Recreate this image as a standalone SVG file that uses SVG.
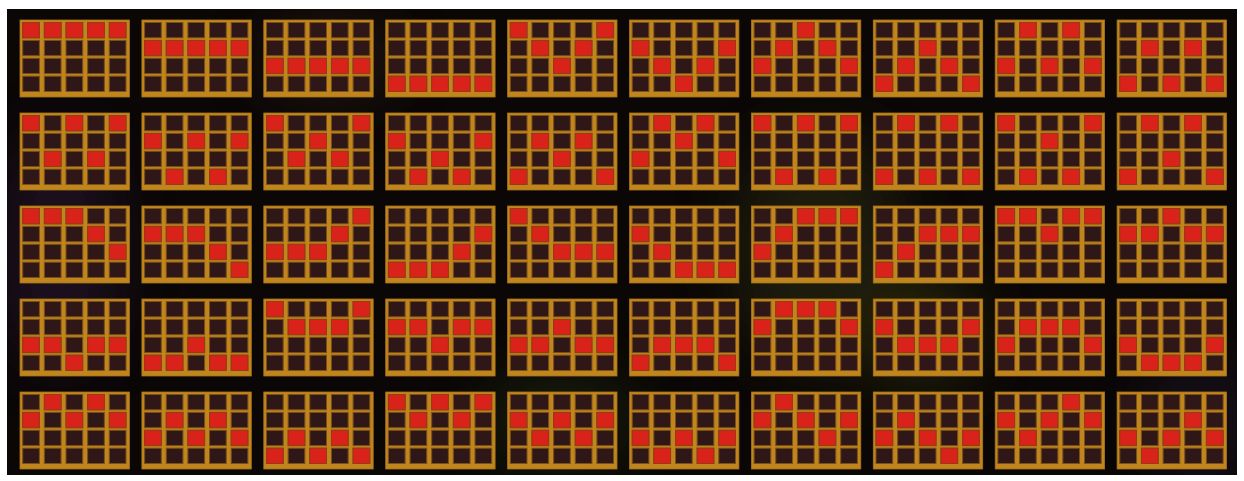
<svg xmlns="http://www.w3.org/2000/svg" xmlns:xlink="http://www.w3.org/1999/xlink" width="1244" height="481" viewBox="0 0 1244 481">
<style>
.gold{fill:#c0851d;stroke:#a8721a;stroke-width:0.8}
.c{fill:#2f1718;stroke:#7a5019;stroke-width:1}
.r{fill:#d8221a;stroke:#9a3a14;stroke-width:1}
</style>
<defs>
<clipPath id="bgclip"><rect x="7" y="9" width="1230" height="466"/></clipPath>
<filter id="blur" x="-50%" y="-50%" width="200%" height="200%"><feGaussianBlur stdDeviation="30"/></filter>
<g id="grid">
<rect class="gold" x="0" y="0" width="109.4" height="77"/>
<rect class="c" x="2.7" y="2.5" width="16.7" height="15.3"/><rect class="c" x="24.35" y="2.5" width="16.7" height="15.3"/><rect class="c" x="46" y="2.5" width="16.7" height="15.3"/><rect class="c" x="67.65" y="2.5" width="16.7" height="15.3"/><rect class="c" x="89.3" y="2.5" width="16.7" height="15.3"/>
<rect class="c" x="2.7" y="20.4" width="16.7" height="15.3"/><rect class="c" x="24.35" y="20.4" width="16.7" height="15.3"/><rect class="c" x="46" y="20.4" width="16.7" height="15.3"/><rect class="c" x="67.65" y="20.4" width="16.7" height="15.3"/><rect class="c" x="89.3" y="20.4" width="16.7" height="15.3"/>
<rect class="c" x="2.7" y="38.3" width="16.7" height="15.3"/><rect class="c" x="24.35" y="38.3" width="16.7" height="15.3"/><rect class="c" x="46" y="38.3" width="16.7" height="15.3"/><rect class="c" x="67.65" y="38.3" width="16.7" height="15.3"/><rect class="c" x="89.3" y="38.3" width="16.7" height="15.3"/>
<rect class="c" x="2.7" y="56.2" width="16.7" height="15.3"/><rect class="c" x="24.35" y="56.2" width="16.7" height="15.3"/><rect class="c" x="46" y="56.2" width="16.7" height="15.3"/><rect class="c" x="67.65" y="56.2" width="16.7" height="15.3"/><rect class="c" x="89.3" y="56.2" width="16.7" height="15.3"/>
</g>
</defs>
<rect x="0" y="0" width="1244" height="481" fill="#ffffff"/>
<rect x="7" y="9" width="1230" height="466" fill="#0a0706"/>
<g clip-path="url(#bgclip)">
<g opacity="0.4" filter="url(#blur)">
<ellipse cx="60" cy="250" rx="60" ry="120" fill="#3a1a44"/>
<ellipse cx="330" cy="60" rx="70" ry="40" fill="#4a2a20"/>
<ellipse cx="820" cy="250" rx="90" ry="120" fill="#3a3a12"/>
<ellipse cx="920" cy="330" rx="60" ry="60" fill="#4a4a10"/>
<ellipse cx="560" cy="420" rx="80" ry="50" fill="#2a3a12"/>
<ellipse cx="1200" cy="420" rx="50" ry="70" fill="#2a1a3a"/>
</g>
</g>
<g id="connectors"/>
<g id="line-1" transform="translate(20,20)"><use href="#grid"/><rect class="r" x="2.7" y="2.5" width="16.7" height="15.3"/><rect class="r" x="24.35" y="2.5" width="16.7" height="15.3"/><rect class="r" x="46" y="2.5" width="16.7" height="15.3"/><rect class="r" x="67.65" y="2.5" width="16.7" height="15.3"/><rect class="r" x="89.3" y="2.5" width="16.7" height="15.3"/></g>
<g id="line-2" transform="translate(141.9,20)"><use href="#grid"/><rect class="r" x="2.7" y="20.4" width="16.7" height="15.3"/><rect class="r" x="24.35" y="20.4" width="16.7" height="15.3"/><rect class="r" x="46" y="20.4" width="16.7" height="15.3"/><rect class="r" x="67.65" y="20.4" width="16.7" height="15.3"/><rect class="r" x="89.3" y="20.4" width="16.7" height="15.3"/></g>
<g id="line-3" transform="translate(263.8,20)"><use href="#grid"/><rect class="r" x="2.7" y="38.3" width="16.7" height="15.3"/><rect class="r" x="24.35" y="38.3" width="16.7" height="15.3"/><rect class="r" x="46" y="38.3" width="16.7" height="15.3"/><rect class="r" x="67.65" y="38.3" width="16.7" height="15.3"/><rect class="r" x="89.3" y="38.3" width="16.7" height="15.3"/></g>
<g id="line-4" transform="translate(385.7,20)"><use href="#grid"/><rect class="r" x="2.7" y="56.2" width="16.7" height="15.3"/><rect class="r" x="24.35" y="56.2" width="16.7" height="15.3"/><rect class="r" x="46" y="56.2" width="16.7" height="15.3"/><rect class="r" x="67.65" y="56.2" width="16.7" height="15.3"/><rect class="r" x="89.3" y="56.2" width="16.7" height="15.3"/></g>
<g id="line-5" transform="translate(507.6,20)"><use href="#grid"/><rect class="r" x="2.7" y="2.5" width="16.7" height="15.3"/><rect class="r" x="24.35" y="20.4" width="16.7" height="15.3"/><rect class="r" x="46" y="38.3" width="16.7" height="15.3"/><rect class="r" x="67.65" y="20.4" width="16.7" height="15.3"/><rect class="r" x="89.3" y="2.5" width="16.7" height="15.3"/></g>
<g id="line-6" transform="translate(629.5,20)"><use href="#grid"/><rect class="r" x="2.7" y="20.4" width="16.7" height="15.3"/><rect class="r" x="24.35" y="38.3" width="16.7" height="15.3"/><rect class="r" x="46" y="56.2" width="16.7" height="15.3"/><rect class="r" x="67.65" y="38.3" width="16.7" height="15.3"/><rect class="r" x="89.3" y="20.4" width="16.7" height="15.3"/></g>
<g id="line-7" transform="translate(751.4,20)"><use href="#grid"/><rect class="r" x="2.7" y="38.3" width="16.7" height="15.3"/><rect class="r" x="24.35" y="20.4" width="16.7" height="15.3"/><rect class="r" x="46" y="2.5" width="16.7" height="15.3"/><rect class="r" x="67.65" y="20.4" width="16.7" height="15.3"/><rect class="r" x="89.3" y="38.3" width="16.7" height="15.3"/></g>
<g id="line-8" transform="translate(873.3,20)"><use href="#grid"/><rect class="r" x="2.7" y="56.2" width="16.7" height="15.3"/><rect class="r" x="24.35" y="38.3" width="16.7" height="15.3"/><rect class="r" x="46" y="20.4" width="16.7" height="15.3"/><rect class="r" x="67.65" y="38.3" width="16.7" height="15.3"/><rect class="r" x="89.3" y="56.2" width="16.7" height="15.3"/></g>
<g id="line-9" transform="translate(995.2,20)"><use href="#grid"/><rect class="r" x="2.7" y="38.3" width="16.7" height="15.3"/><rect class="r" x="24.35" y="2.5" width="16.7" height="15.3"/><rect class="r" x="46" y="38.3" width="16.7" height="15.3"/><rect class="r" x="67.65" y="2.5" width="16.7" height="15.3"/><rect class="r" x="89.3" y="38.3" width="16.7" height="15.3"/></g>
<g id="line-10" transform="translate(1117.1,20)"><use href="#grid"/><rect class="r" x="2.7" y="56.2" width="16.7" height="15.3"/><rect class="r" x="24.35" y="20.4" width="16.7" height="15.3"/><rect class="r" x="46" y="56.2" width="16.7" height="15.3"/><rect class="r" x="67.65" y="20.4" width="16.7" height="15.3"/><rect class="r" x="89.3" y="56.2" width="16.7" height="15.3"/></g>
<g id="line-11" transform="translate(20,113)"><use href="#grid"/><rect class="r" x="2.7" y="2.5" width="16.7" height="15.3"/><rect class="r" x="24.35" y="38.3" width="16.7" height="15.3"/><rect class="r" x="46" y="2.5" width="16.7" height="15.3"/><rect class="r" x="67.65" y="38.3" width="16.7" height="15.3"/><rect class="r" x="89.3" y="2.5" width="16.7" height="15.3"/></g>
<g id="line-12" transform="translate(141.9,113)"><use href="#grid"/><rect class="r" x="2.7" y="20.4" width="16.7" height="15.3"/><rect class="r" x="24.35" y="56.2" width="16.7" height="15.3"/><rect class="r" x="46" y="20.4" width="16.7" height="15.3"/><rect class="r" x="67.65" y="56.2" width="16.7" height="15.3"/><rect class="r" x="89.3" y="20.4" width="16.7" height="15.3"/></g>
<g id="line-13" transform="translate(263.8,113)"><use href="#grid"/><rect class="r" x="2.7" y="2.5" width="16.7" height="15.3"/><rect class="r" x="24.35" y="38.3" width="16.7" height="15.3"/><rect class="r" x="46" y="20.4" width="16.7" height="15.3"/><rect class="r" x="67.65" y="38.3" width="16.7" height="15.3"/><rect class="r" x="89.3" y="2.5" width="16.7" height="15.3"/></g>
<g id="line-14" transform="translate(385.7,113)"><use href="#grid"/><rect class="r" x="2.7" y="20.4" width="16.7" height="15.3"/><rect class="r" x="24.35" y="56.2" width="16.7" height="15.3"/><rect class="r" x="46" y="38.3" width="16.7" height="15.3"/><rect class="r" x="67.65" y="56.2" width="16.7" height="15.3"/><rect class="r" x="89.3" y="20.4" width="16.7" height="15.3"/></g>
<g id="line-15" transform="translate(507.6,113)"><use href="#grid"/><rect class="r" x="2.7" y="56.2" width="16.7" height="15.3"/><rect class="r" x="24.35" y="20.4" width="16.7" height="15.3"/><rect class="r" x="46" y="38.3" width="16.7" height="15.3"/><rect class="r" x="67.65" y="20.4" width="16.7" height="15.3"/><rect class="r" x="89.3" y="56.2" width="16.7" height="15.3"/></g>
<g id="line-16" transform="translate(629.5,113)"><use href="#grid"/><rect class="r" x="2.7" y="38.3" width="16.7" height="15.3"/><rect class="r" x="24.35" y="2.5" width="16.7" height="15.3"/><rect class="r" x="46" y="20.4" width="16.7" height="15.3"/><rect class="r" x="67.65" y="2.5" width="16.7" height="15.3"/><rect class="r" x="89.3" y="38.3" width="16.7" height="15.3"/></g>
<g id="line-17" transform="translate(751.4,113)"><use href="#grid"/><rect class="r" x="2.7" y="2.5" width="16.7" height="15.3"/><rect class="r" x="24.35" y="56.2" width="16.7" height="15.3"/><rect class="r" x="46" y="2.5" width="16.7" height="15.3"/><rect class="r" x="67.65" y="56.2" width="16.7" height="15.3"/><rect class="r" x="89.3" y="2.5" width="16.7" height="15.3"/></g>
<g id="line-18" transform="translate(873.3,113)"><use href="#grid"/><rect class="r" x="2.7" y="56.2" width="16.7" height="15.3"/><rect class="r" x="24.35" y="2.5" width="16.7" height="15.3"/><rect class="r" x="46" y="56.2" width="16.7" height="15.3"/><rect class="r" x="67.65" y="2.5" width="16.7" height="15.3"/><rect class="r" x="89.3" y="56.2" width="16.7" height="15.3"/></g>
<g id="line-19" transform="translate(995.2,113)"><use href="#grid"/><rect class="r" x="2.7" y="2.5" width="16.7" height="15.3"/><rect class="r" x="24.35" y="56.2" width="16.7" height="15.3"/><rect class="r" x="46" y="20.4" width="16.7" height="15.3"/><rect class="r" x="67.65" y="56.2" width="16.7" height="15.3"/><rect class="r" x="89.3" y="2.5" width="16.7" height="15.3"/></g>
<g id="line-20" transform="translate(1117.1,113)"><use href="#grid"/><rect class="r" x="2.7" y="56.2" width="16.7" height="15.3"/><rect class="r" x="24.35" y="2.5" width="16.7" height="15.3"/><rect class="r" x="46" y="38.3" width="16.7" height="15.3"/><rect class="r" x="67.65" y="2.5" width="16.7" height="15.3"/><rect class="r" x="89.3" y="56.2" width="16.7" height="15.3"/></g>
<g id="line-21" transform="translate(20,206)"><use href="#grid"/><rect class="r" x="2.7" y="2.5" width="16.7" height="15.3"/><rect class="r" x="24.35" y="2.5" width="16.7" height="15.3"/><rect class="r" x="46" y="2.5" width="16.7" height="15.3"/><rect class="r" x="67.65" y="20.4" width="16.7" height="15.3"/><rect class="r" x="89.3" y="38.3" width="16.7" height="15.3"/></g>
<g id="line-22" transform="translate(141.9,206)"><use href="#grid"/><rect class="r" x="2.7" y="20.4" width="16.7" height="15.3"/><rect class="r" x="24.35" y="20.4" width="16.7" height="15.3"/><rect class="r" x="46" y="20.4" width="16.7" height="15.3"/><rect class="r" x="67.65" y="38.3" width="16.7" height="15.3"/><rect class="r" x="89.3" y="56.2" width="16.7" height="15.3"/></g>
<g id="line-23" transform="translate(263.8,206)"><use href="#grid"/><rect class="r" x="2.7" y="38.3" width="16.7" height="15.3"/><rect class="r" x="24.35" y="38.3" width="16.7" height="15.3"/><rect class="r" x="46" y="38.3" width="16.7" height="15.3"/><rect class="r" x="67.65" y="20.4" width="16.7" height="15.3"/><rect class="r" x="89.3" y="2.5" width="16.7" height="15.3"/></g>
<g id="line-24" transform="translate(385.7,206)"><use href="#grid"/><rect class="r" x="2.7" y="56.2" width="16.7" height="15.3"/><rect class="r" x="24.35" y="56.2" width="16.7" height="15.3"/><rect class="r" x="46" y="56.2" width="16.7" height="15.3"/><rect class="r" x="67.65" y="38.3" width="16.7" height="15.3"/><rect class="r" x="89.3" y="20.4" width="16.7" height="15.3"/></g>
<g id="line-25" transform="translate(507.6,206)"><use href="#grid"/><rect class="r" x="2.7" y="2.5" width="16.7" height="15.3"/><rect class="r" x="24.35" y="20.4" width="16.7" height="15.3"/><rect class="r" x="46" y="38.3" width="16.7" height="15.3"/><rect class="r" x="67.65" y="38.3" width="16.7" height="15.3"/><rect class="r" x="89.3" y="38.3" width="16.7" height="15.3"/></g>
<g id="line-26" transform="translate(629.5,206)"><use href="#grid"/><rect class="r" x="2.7" y="20.4" width="16.7" height="15.3"/><rect class="r" x="24.35" y="38.3" width="16.7" height="15.3"/><rect class="r" x="46" y="56.2" width="16.7" height="15.3"/><rect class="r" x="67.65" y="56.2" width="16.7" height="15.3"/><rect class="r" x="89.3" y="56.2" width="16.7" height="15.3"/></g>
<g id="line-27" transform="translate(751.4,206)"><use href="#grid"/><rect class="r" x="2.7" y="38.3" width="16.7" height="15.3"/><rect class="r" x="24.35" y="20.4" width="16.7" height="15.3"/><rect class="r" x="46" y="2.5" width="16.7" height="15.3"/><rect class="r" x="67.65" y="2.5" width="16.7" height="15.3"/><rect class="r" x="89.3" y="2.5" width="16.7" height="15.3"/></g>
<g id="line-28" transform="translate(873.3,206)"><use href="#grid"/><rect class="r" x="2.7" y="56.2" width="16.7" height="15.3"/><rect class="r" x="24.35" y="38.3" width="16.7" height="15.3"/><rect class="r" x="46" y="20.4" width="16.7" height="15.3"/><rect class="r" x="67.65" y="20.4" width="16.7" height="15.3"/><rect class="r" x="89.3" y="20.4" width="16.7" height="15.3"/></g>
<g id="line-29" transform="translate(995.2,206)"><use href="#grid"/><rect class="r" x="2.7" y="2.5" width="16.7" height="15.3"/><rect class="r" x="24.35" y="2.5" width="16.7" height="15.3"/><rect class="r" x="46" y="20.4" width="16.7" height="15.3"/><rect class="r" x="67.65" y="2.5" width="16.7" height="15.3"/><rect class="r" x="89.3" y="2.5" width="16.7" height="15.3"/></g>
<g id="line-30" transform="translate(1117.1,206)"><use href="#grid"/><rect class="r" x="2.7" y="20.4" width="16.7" height="15.3"/><rect class="r" x="24.35" y="20.4" width="16.7" height="15.3"/><rect class="r" x="46" y="2.5" width="16.7" height="15.3"/><rect class="r" x="67.65" y="20.4" width="16.7" height="15.3"/><rect class="r" x="89.3" y="20.4" width="16.7" height="15.3"/></g>
<g id="line-31" transform="translate(20,299)"><use href="#grid"/><rect class="r" x="2.7" y="38.3" width="16.7" height="15.3"/><rect class="r" x="24.35" y="38.3" width="16.7" height="15.3"/><rect class="r" x="46" y="56.2" width="16.7" height="15.3"/><rect class="r" x="67.65" y="38.3" width="16.7" height="15.3"/><rect class="r" x="89.3" y="38.3" width="16.7" height="15.3"/></g>
<g id="line-32" transform="translate(141.9,299)"><use href="#grid"/><rect class="r" x="2.7" y="56.2" width="16.7" height="15.3"/><rect class="r" x="24.35" y="56.2" width="16.7" height="15.3"/><rect class="r" x="46" y="38.3" width="16.7" height="15.3"/><rect class="r" x="67.65" y="56.2" width="16.7" height="15.3"/><rect class="r" x="89.3" y="56.2" width="16.7" height="15.3"/></g>
<g id="line-33" transform="translate(263.8,299)"><use href="#grid"/><rect class="r" x="2.7" y="2.5" width="16.7" height="15.3"/><rect class="r" x="24.35" y="20.4" width="16.7" height="15.3"/><rect class="r" x="46" y="20.4" width="16.7" height="15.3"/><rect class="r" x="67.65" y="20.4" width="16.7" height="15.3"/><rect class="r" x="89.3" y="2.5" width="16.7" height="15.3"/></g>
<g id="line-34" transform="translate(385.7,299)"><use href="#grid"/><rect class="r" x="2.7" y="20.4" width="16.7" height="15.3"/><rect class="r" x="24.35" y="20.4" width="16.7" height="15.3"/><rect class="r" x="46" y="38.3" width="16.7" height="15.3"/><rect class="r" x="67.65" y="20.4" width="16.7" height="15.3"/><rect class="r" x="89.3" y="20.4" width="16.7" height="15.3"/></g>
<g id="line-35" transform="translate(507.6,299)"><use href="#grid"/><rect class="r" x="2.7" y="38.3" width="16.7" height="15.3"/><rect class="r" x="24.35" y="38.3" width="16.7" height="15.3"/><rect class="r" x="46" y="20.4" width="16.7" height="15.3"/><rect class="r" x="67.65" y="38.3" width="16.7" height="15.3"/><rect class="r" x="89.3" y="38.3" width="16.7" height="15.3"/></g>
<g id="line-36" transform="translate(629.5,299)"><use href="#grid"/><rect class="r" x="2.7" y="56.2" width="16.7" height="15.3"/><rect class="r" x="24.35" y="38.3" width="16.7" height="15.3"/><rect class="r" x="46" y="38.3" width="16.7" height="15.3"/><rect class="r" x="67.65" y="38.3" width="16.7" height="15.3"/><rect class="r" x="89.3" y="56.2" width="16.7" height="15.3"/></g>
<g id="line-37" transform="translate(751.4,299)"><use href="#grid"/><rect class="r" x="2.7" y="20.4" width="16.7" height="15.3"/><rect class="r" x="24.35" y="2.5" width="16.7" height="15.3"/><rect class="r" x="46" y="2.5" width="16.7" height="15.3"/><rect class="r" x="67.65" y="2.5" width="16.7" height="15.3"/><rect class="r" x="89.3" y="20.4" width="16.7" height="15.3"/></g>
<g id="line-38" transform="translate(873.3,299)"><use href="#grid"/><rect class="r" x="2.7" y="20.4" width="16.7" height="15.3"/><rect class="r" x="24.35" y="38.3" width="16.7" height="15.3"/><rect class="r" x="46" y="38.3" width="16.7" height="15.3"/><rect class="r" x="67.65" y="38.3" width="16.7" height="15.3"/><rect class="r" x="89.3" y="20.4" width="16.7" height="15.3"/></g>
<g id="line-39" transform="translate(995.2,299)"><use href="#grid"/><rect class="r" x="2.7" y="38.3" width="16.7" height="15.3"/><rect class="r" x="24.35" y="20.4" width="16.7" height="15.3"/><rect class="r" x="46" y="20.4" width="16.7" height="15.3"/><rect class="r" x="67.65" y="20.4" width="16.7" height="15.3"/><rect class="r" x="89.3" y="38.3" width="16.7" height="15.3"/></g>
<g id="line-40" transform="translate(1117.1,299)"><use href="#grid"/><rect class="r" x="2.7" y="38.3" width="16.7" height="15.3"/><rect class="r" x="24.35" y="56.2" width="16.7" height="15.3"/><rect class="r" x="46" y="56.2" width="16.7" height="15.3"/><rect class="r" x="67.65" y="56.2" width="16.7" height="15.3"/><rect class="r" x="89.3" y="38.3" width="16.7" height="15.3"/></g>
<g id="line-41" transform="translate(20,392)"><use href="#grid"/><rect class="r" x="2.7" y="20.4" width="16.7" height="15.3"/><rect class="r" x="24.35" y="2.5" width="16.7" height="15.3"/><rect class="r" x="46" y="20.4" width="16.7" height="15.3"/><rect class="r" x="67.65" y="2.5" width="16.7" height="15.3"/><rect class="r" x="89.3" y="20.4" width="16.7" height="15.3"/></g>
<g id="line-42" transform="translate(141.9,392)"><use href="#grid"/><rect class="r" x="2.7" y="38.3" width="16.7" height="15.3"/><rect class="r" x="24.35" y="20.4" width="16.7" height="15.3"/><rect class="r" x="46" y="38.3" width="16.7" height="15.3"/><rect class="r" x="67.65" y="20.4" width="16.7" height="15.3"/><rect class="r" x="89.3" y="38.3" width="16.7" height="15.3"/></g>
<g id="line-43" transform="translate(263.8,392)"><use href="#grid"/><rect class="r" x="2.7" y="56.2" width="16.7" height="15.3"/><rect class="r" x="24.35" y="38.3" width="16.7" height="15.3"/><rect class="r" x="46" y="56.2" width="16.7" height="15.3"/><rect class="r" x="67.65" y="38.3" width="16.7" height="15.3"/><rect class="r" x="89.3" y="56.2" width="16.7" height="15.3"/></g>
<g id="line-44" transform="translate(385.7,392)"><use href="#grid"/><rect class="r" x="2.7" y="2.5" width="16.7" height="15.3"/><rect class="r" x="24.35" y="20.4" width="16.7" height="15.3"/><rect class="r" x="46" y="2.5" width="16.7" height="15.3"/><rect class="r" x="67.65" y="20.4" width="16.7" height="15.3"/><rect class="r" x="89.3" y="2.5" width="16.7" height="15.3"/></g>
<g id="line-45" transform="translate(507.6,392)"><use href="#grid"/><rect class="r" x="2.7" y="20.4" width="16.7" height="15.3"/><rect class="r" x="24.35" y="38.3" width="16.7" height="15.3"/><rect class="r" x="46" y="20.4" width="16.7" height="15.3"/><rect class="r" x="67.65" y="38.3" width="16.7" height="15.3"/><rect class="r" x="89.3" y="20.4" width="16.7" height="15.3"/></g>
<g id="line-46" transform="translate(629.5,392)"><use href="#grid"/><rect class="r" x="2.7" y="38.3" width="16.7" height="15.3"/><rect class="r" x="24.35" y="56.2" width="16.7" height="15.3"/><rect class="r" x="46" y="38.3" width="16.7" height="15.3"/><rect class="r" x="67.65" y="56.2" width="16.7" height="15.3"/><rect class="r" x="89.3" y="38.3" width="16.7" height="15.3"/></g>
<g id="line-47" transform="translate(751.4,392)"><use href="#grid"/><rect class="r" x="2.7" y="20.4" width="16.7" height="15.3"/><rect class="r" x="24.35" y="2.5" width="16.7" height="15.3"/><rect class="r" x="46" y="20.4" width="16.7" height="15.3"/><rect class="r" x="67.65" y="38.3" width="16.7" height="15.3"/><rect class="r" x="89.3" y="20.4" width="16.7" height="15.3"/></g>
<g id="line-48" transform="translate(873.3,392)"><use href="#grid"/><rect class="r" x="2.7" y="38.3" width="16.7" height="15.3"/><rect class="r" x="24.35" y="20.4" width="16.7" height="15.3"/><rect class="r" x="46" y="38.3" width="16.7" height="15.3"/><rect class="r" x="67.65" y="56.2" width="16.7" height="15.3"/><rect class="r" x="89.3" y="38.3" width="16.7" height="15.3"/></g>
<g id="line-49" transform="translate(995.2,392)"><use href="#grid"/><rect class="r" x="2.7" y="20.4" width="16.7" height="15.3"/><rect class="r" x="24.35" y="38.3" width="16.7" height="15.3"/><rect class="r" x="46" y="20.4" width="16.7" height="15.3"/><rect class="r" x="67.65" y="2.5" width="16.7" height="15.3"/><rect class="r" x="89.3" y="20.4" width="16.7" height="15.3"/></g>
<g id="line-50" transform="translate(1117.1,392)"><use href="#grid"/><rect class="r" x="2.7" y="38.3" width="16.7" height="15.3"/><rect class="r" x="24.35" y="56.2" width="16.7" height="15.3"/><rect class="r" x="46" y="38.3" width="16.7" height="15.3"/><rect class="r" x="67.65" y="20.4" width="16.7" height="15.3"/><rect class="r" x="89.3" y="38.3" width="16.7" height="15.3"/></g>
</svg>
